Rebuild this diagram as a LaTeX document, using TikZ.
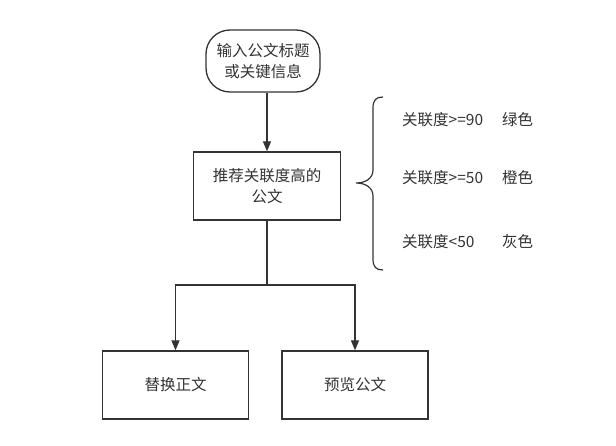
\documentclass[tikz,border=0pt]{standalone}
\usepackage{fontspec}
\setmainfont{Noto Sans CJK SC}
\usetikzlibrary{arrows.meta}
\definecolor{ink}{HTML}{333333}
\tikzset{
  box/.style={draw=ink, line width=1.3pt, rectangle, minimum width=146pt, minimum height=68pt, align=center, text=ink, font=\fontsize{15.5}{21}\selectfont},
  startbox/.style={box, rounded corners=24pt, minimum width=114pt, minimum height=62pt},
  flow/.style={draw=ink, line width=1.3pt, -{Triangle[length=10pt,width=8pt]}},
  line/.style={draw=ink, line width=1.3pt},
  note/.style={anchor=west, text=ink, font=\fontsize{15.5}{21}\selectfont, inner sep=0pt}
}
\begin{document}
\begin{tikzpicture}[x=1pt,y=-1pt]
\useasboundingbox (0,0) rectangle (616,446);
\fill[white] (0,0) rectangle (616,446);
\node[startbox] (start) at (263,61) {输入公文标题\\或关键信息};
\node[box, minimum width=147pt] (rec) at (267,186) {推荐关联度高的\\公文};
\node[box] (rep) at (175.5,385) {替换正文};
\node[box] (pre) at (355,385) {预览公文};
\coordinate (j) at (267,285);
\draw[flow] (start.south -| rec.north) -- (rec.north);
\draw[line] (rec.south) -- (j);
\draw[flow] (j) -| (rep.north);
\draw[flow] (j) -| (pre.north);
% brace
\coordinate (bt) at (383,97);
\coordinate (bm) at (356,183);
\coordinate (bb) at (383,270);
\draw[line, line width=1.2pt] (bt) .. controls (376,97) and (373,100) .. (373,108)
  -- (373,170) .. controls (373,178) and (366,183) .. (bm)
  .. controls (366,183) and (373,188) .. (373,196)
  -- (373,259) .. controls (373,267) and (376,270) .. (bb);
\node[note] (n1) at (402,120) {\makebox[100pt][l]{关联度>=90}绿色};
\node[note] (n2) at (402,178) {\makebox[100pt][l]{关联度>=50}橙色};
\node[note] (n3) at (402,242) {\makebox[100pt][l]{关联度<50}灰色};
\end{tikzpicture}
\end{document}
